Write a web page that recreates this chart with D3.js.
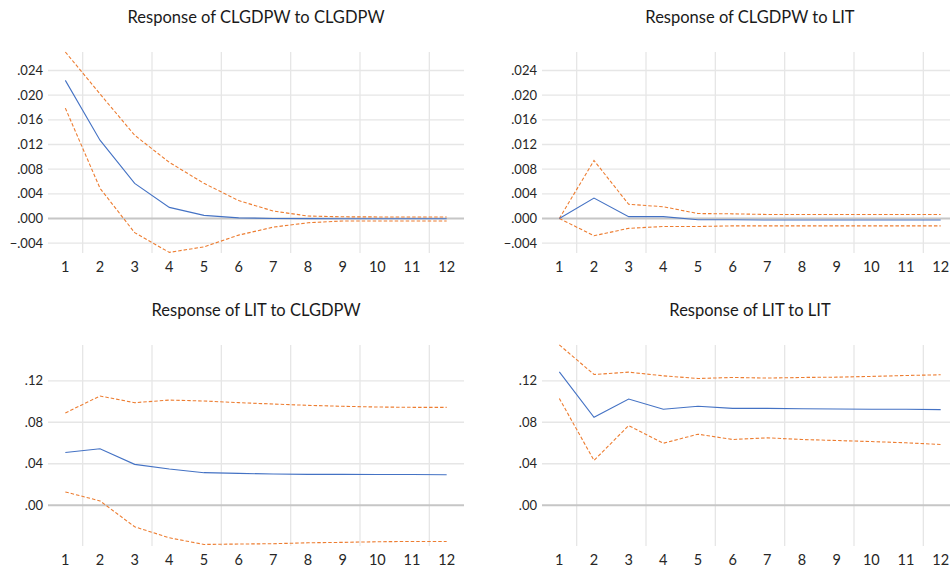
<!DOCTYPE html>
<html>
<head>
<meta charset="utf-8">
<script src="https://cdn.jsdelivr.net/npm/d3@7"></script>
<style>
  body { margin: 0; background: #fff; }
  svg { display: block; font-family: Lato, "Open Sans", sans-serif; }
</style>
</head>
<body>
<svg id="chart" width="950" height="573"></svg>
<script>
// periods on the x axis
const periods = [1, 2, 3, 4, 5, 6, 7, 8, 9, 10, 11, 12];

// Response of CLGDPW to CLGDPW
const gdpGdpMid = [0.0224, 0.0127, 0.0057, 0.0018, 0.0005, 0.0001, 0.0000, -0.00003, -0.00005, -0.00005, -0.00005, -0.00005];
const gdpGdpHi  = [0.0270, 0.0202, 0.0135, 0.0091, 0.0057, 0.0029, 0.0012, 0.0004, 0.00027, 0.00025, 0.00025, 0.00025];
const gdpGdpLo  = [0.0179, 0.0049, -0.0023, -0.0055, -0.0046, -0.0027, -0.0014, -0.0007, -0.0004, -0.0004, -0.0004, -0.0004];

// Response of CLGDPW to LIT
const gdpLitMid = [0.0000, 0.0033, 0.0003, 0.0003, -0.0002, -0.0002, -0.00025, -0.00025, -0.00025, -0.00025, -0.00025, -0.00025];
const gdpLitHi  = [0.0000, 0.0094, 0.0023, 0.0019, 0.0008, 0.00075, 0.00065, 0.00065, 0.00065, 0.00065, 0.00065, 0.00065];
const gdpLitLo  = [0.0000, -0.0028, -0.0016, -0.0013, -0.0013, -0.0012, -0.0012, -0.0012, -0.0012, -0.0012, -0.0012, -0.0012];

// Response of LIT to CLGDPW
const litGdpMid = [0.0509, 0.0544, 0.0394, 0.0349, 0.0314, 0.0307, 0.0301, 0.0298, 0.0298, 0.0297, 0.0296, 0.0294];
const litGdpHi  = [0.0890, 0.1053, 0.0989, 0.1014, 0.1005, 0.0989, 0.0976, 0.0963, 0.0954, 0.0947, 0.0944, 0.0944];
const litGdpLo  = [0.0128, 0.0042, -0.0208, -0.0314, -0.0378, -0.0374, -0.0371, -0.0362, -0.0358, -0.0352, -0.0349, -0.0349];

// Response of LIT to LIT
const litLitMid = [0.1286, 0.0848, 0.1024, 0.0925, 0.0954, 0.0934, 0.0934, 0.0931, 0.0928, 0.0925, 0.0925, 0.0922];
const litLitHi  = [0.1546, 0.1261, 0.1283, 0.1248, 0.1222, 0.1232, 0.1226, 0.1232, 0.1235, 0.1242, 0.1251, 0.1258];
const litLitLo  = [0.1030, 0.0432, 0.0768, 0.0598, 0.0685, 0.0634, 0.0650, 0.0634, 0.0624, 0.0614, 0.0602, 0.0586];

// tick labels
const gdpTicks = [-0.004, 0.000, 0.004, 0.008, 0.012, 0.016, 0.020, 0.024];
const litTicks = [0.00, 0.04, 0.08, 0.12];

const panels = [
  {title: 'Response of CLGDPW to CLGDPW', mid: gdpGdpMid, hi: gdpGdpHi, lo: gdpGdpLo,
   ticks: gdpTicks, dom: [-0.0056, 0.0270], fmt: '.3f', left: 48, top: 52},
  {title: 'Response of CLGDPW to LIT', mid: gdpLitMid, hi: gdpLitHi, lo: gdpLitLo,
   ticks: gdpTicks, dom: [-0.0056, 0.0270], fmt: '.3f', left: 542, top: 52},
  {title: 'Response of LIT to CLGDPW', mid: litGdpMid, hi: litGdpHi, lo: litGdpLo,
   ticks: litTicks, dom: [-0.0393, 0.1545], fmt: '.2f', left: 48, top: 345},
  {title: 'Response of LIT to LIT', mid: litLitMid, hi: litLitHi, lo: litLitLo,
   ticks: litTicks, dom: [-0.0393, 0.1545], fmt: '.2f', left: 542, top: 345}
];

const width = 416, height = 201;
const svg = d3.select('#chart');

panels.forEach(p => {
  const g = svg.append('g').attr('transform', `translate(${p.left},${p.top})`);

  const x = d3.scaleBand().domain(periods).range([0, width]);
  const y = d3.scaleLinear().domain(p.dom).range([height, 0]);
  const cx = d => x(d) + x.bandwidth() / 2;
  const fmt = v => d3.format(p.fmt)(v).replace('0.', '.');

  // horizontal gridlines
  g.selectAll('line.hgrid')
    .data(p.ticks.filter(t => t !== 0))
    .enter().append('line')
      .attr('x1', 0).attr('x2', width)
      .attr('y1', d => y(d)).attr('y2', d => y(d))
      .attr('stroke', '#e6e6e6').attr('stroke-width', 1.3);

  // vertical gridlines every two periods
  g.selectAll('line.vgrid')
    .data(periods.filter(d => d % 2 === 0))
    .enter().append('line')
      .attr('x1', d => x(d)).attr('x2', d => x(d))
      .attr('y1', 0).attr('y2', height)
      .attr('stroke', '#e6e6e6').attr('stroke-width', 1.3);

  // zero line
  g.append('line')
    .attr('x1', 0).attr('x2', width)
    .attr('y1', y(0)).attr('y2', y(0))
    .attr('stroke', '#c6c6c6').attr('stroke-width', 2);

  // y tick labels
  g.selectAll('text.ytick')
    .data(p.ticks)
    .enter().append('text')
      .attr('x', -5).attr('y', d => y(d))
      .attr('dy', '0.35em')
      .attr('text-anchor', 'end')
      .attr('font-size', 13)
      .attr('fill', '#262626')
      .text(fmt);

  // x tick labels
  g.selectAll('text.xtick')
    .data(periods)
    .enter().append('text')
      .attr('x', cx).attr('y', height + 19)
      .attr('text-anchor', 'middle')
      .attr('font-size', 14.5)
      .attr('fill', '#262626')
      .text(d => d);

  // title
  g.append('text')
    .attr('x', width / 2).attr('y', -29)
    .attr('text-anchor', 'middle')
    .attr('font-size', 16.5)
    .attr('fill', '#1a1a1a')
    .text(p.title);

  const line = d3.line().x((d, i) => cx(periods[i])).y(d => y(d));

  [p.hi, p.lo].forEach(s => {
    g.append('path')
      .datum(s)
      .attr('fill', 'none')
      .attr('stroke', '#ED7D31')
      .attr('stroke-width', 1.1)
      .attr('stroke-dasharray', '3.5,2')
      .attr('d', line);
  });

  g.append('path')
    .datum(p.mid)
    .attr('fill', 'none')
    .attr('stroke', '#4472C4')
    .attr('stroke-width', 1.1)
    .attr('d', line);
});
</script>
</body>
</html>
